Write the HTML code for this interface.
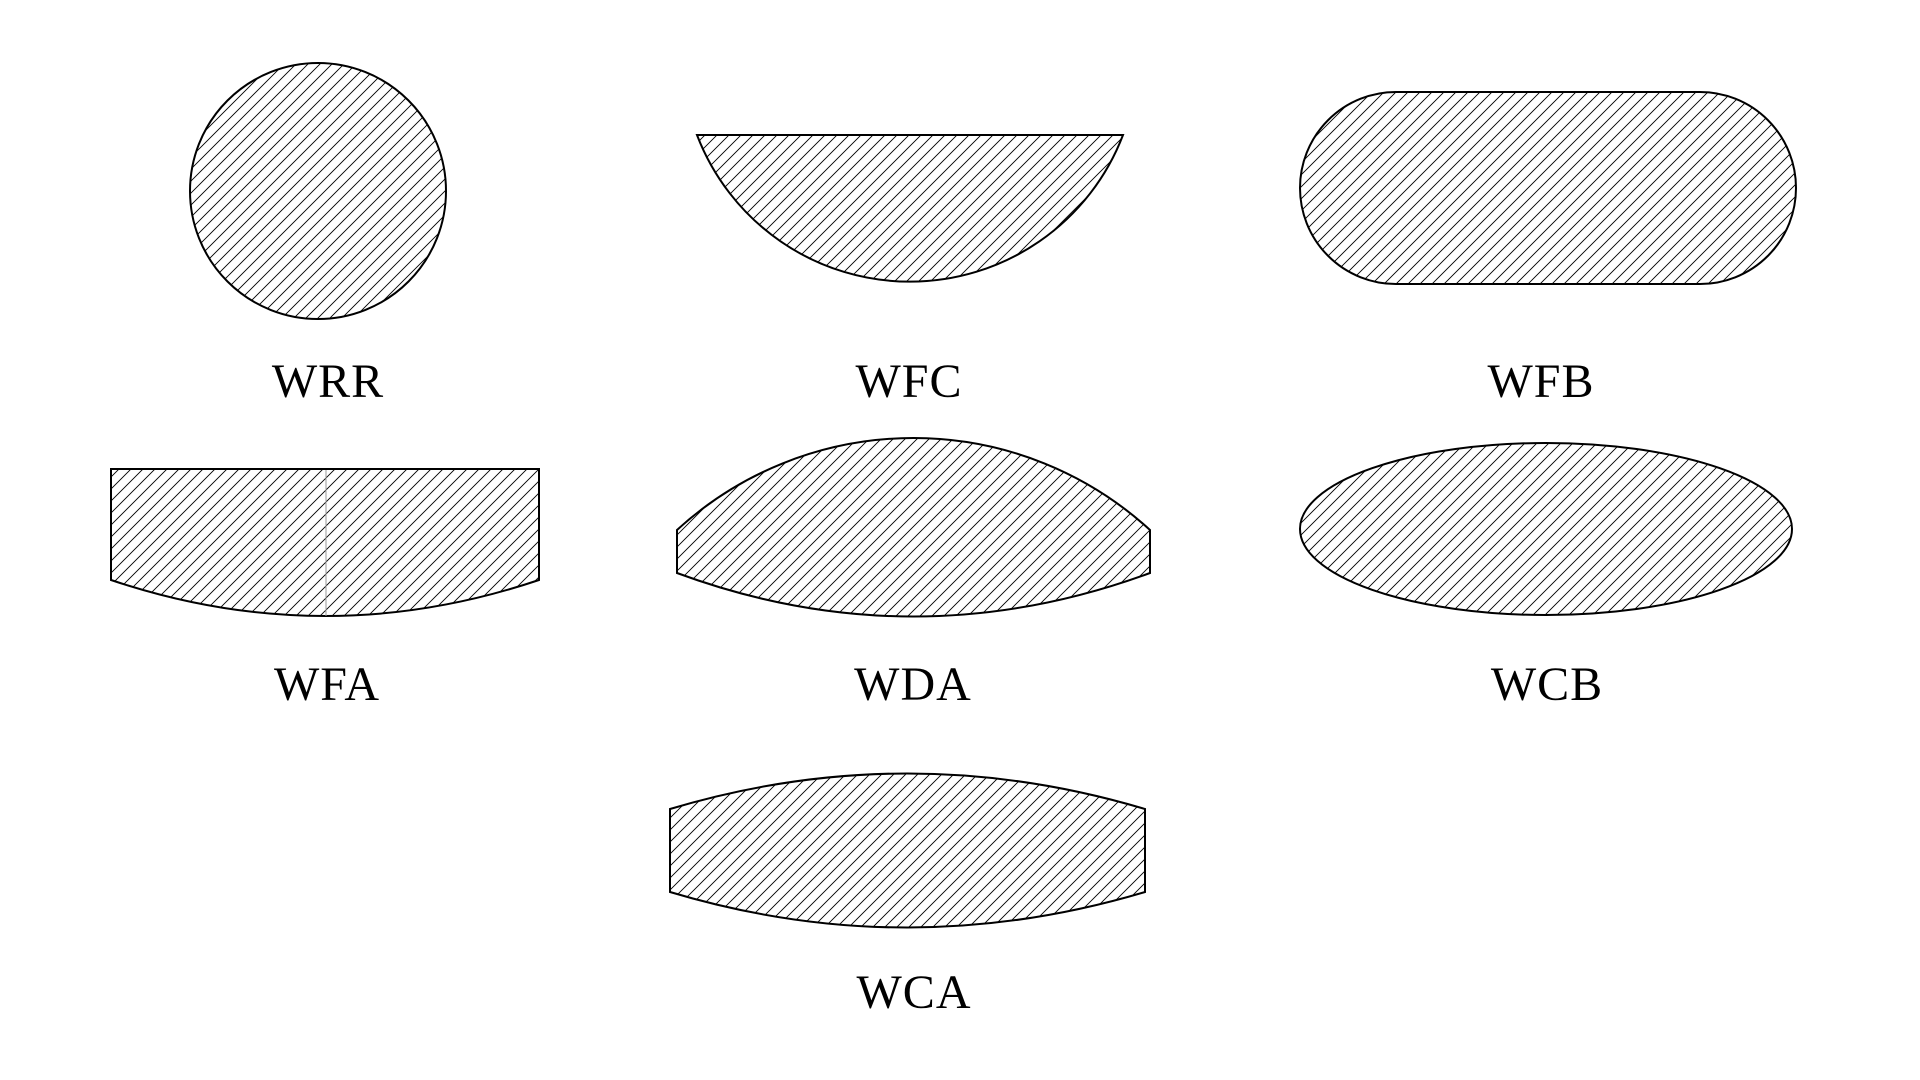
<!DOCTYPE html>
<html><head><meta charset="utf-8"><style>
html,body{margin:0;padding:0;background:#fff;}
svg{display:block;}
text{font-family:"Liberation Serif",serif;font-size:48px;fill:#000;text-anchor:middle;letter-spacing:1px;}
</style></head><body>
<svg width="1920" height="1080" viewBox="0 0 1920 1080" xmlns="http://www.w3.org/2000/svg">
<defs>
<pattern id="h" patternUnits="userSpaceOnUse" width="12" height="12">
<path d="M-3,3 L3,-3 M0,12 L12,0 M9,15 L15,9" stroke="#000" stroke-width="0.9"/>
</pattern>
</defs>
<g fill="url(#h)" stroke="#000" stroke-width="2">
<circle cx="318" cy="191" r="128"/>
<path d="M697,135 L1123,135 A228 228 0 0 1 697 135 Z"/>
<rect x="1300" y="92" width="496" height="192" rx="96" ry="96"/>
<path d="M111,469 L539,469 L539,580 Q325,652 111,580 Z"/>
<path d="M677,530 A350 350 0 0 1 1150,530 L1150,573 Q913,660 677,573 Z"/>
<ellipse cx="1546" cy="529" rx="246" ry="86"/>
<path d="M670,809 Q907,738 1145,809 L1145,892 Q907,963 670,892 Z"/>
</g>
<line x1="326" y1="470" x2="326" y2="616" stroke="#999" stroke-width="1"/>
<text x="328" y="397">WRR</text>
<text x="909" y="397">WFC</text>
<text x="1541" y="397">WFB</text>
<text x="327" y="700">WFA</text>
<text x="913" y="700">WDA</text>
<text x="1547" y="700">WCB</text>
<text x="914" y="1008">WCA</text>
</svg>
</body></html>
